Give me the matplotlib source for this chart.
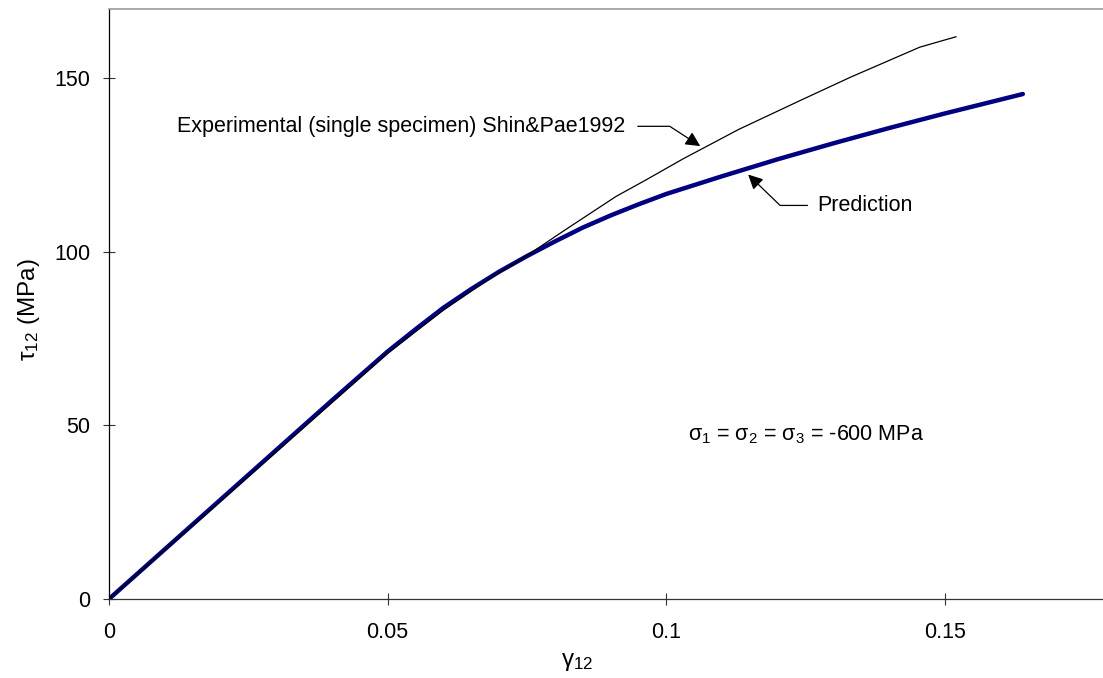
"""
shear stress-strain: prediction vs Shin & Pae 1992 experiment
"""

import matplotlib
matplotlib.use('Agg')
import matplotlib.pyplot as plt

# prediction curve (thick navy)
pred_gamma = [0, 0.01, 0.02, 0.03, 0.04, 0.05, 0.055, 0.06, 0.065, 0.07,
              0.075, 0.08, 0.085, 0.09, 0.095, 0.1, 0.11, 0.12, 0.13, 0.14,
              0.15, 0.16, 0.164]
pred_tau = [0, 14.3, 28.6, 42.9, 57.2, 71.3, 77.7, 83.9, 89.3, 94.3,
            98.8, 103.0, 107.0, 110.5, 113.7, 116.7, 121.8, 126.7, 131.3,
            135.7, 139.9, 143.9, 145.5]

# experimental curve (thin black)
exp_gamma = [0, 0.01, 0.02, 0.03, 0.04, 0.05, 0.06, 0.068, 0.0743, 0.082,
             0.091, 0.0962, 0.103, 0.113, 0.124, 0.133, 0.1455, 0.152]
exp_tau = [0, 14.1, 28.2, 42.4, 56.6, 70.8, 83.2, 92.0, 98.2, 106.5,
           116.0, 120.6, 126.8, 135.3, 143.6, 150.3, 159.0, 162.0]

xticks = [0, 0.05, 0.1, 0.15]
xticklabels = ['0', '0.05', '0.1', '0.15']
yticks = [0, 50, 100, 150]


def main():
    plt.rcParams['font.family'] = ['Liberation Sans', 'DejaVu Sans']
    plt.rcParams['mathtext.fontset'] = 'custom'
    plt.rcParams['mathtext.rm'] = 'Liberation Sans'
    plt.rcParams['font.size'] = 15.5

    fig = plt.figure(figsize=(11.03, 6.78), dpi=100)
    ax = fig.add_axes([109 / 1103, 79 / 678, 1003 / 1103, 590 / 678])

    ax.plot(exp_gamma, exp_tau, color='black', linewidth=0.9, zorder=3)
    ax.plot(pred_gamma, pred_tau, color='#000080', linewidth=3.2,
            solid_capstyle='round', solid_joinstyle='round', zorder=2)

    ax.set_xlim(0, 0.18)
    ax.set_ylim(0, 170)
    ax.set_xticks(xticks)
    ax.set_xticklabels(xticklabels)
    ax.set_yticks(yticks)
    ax.tick_params(axis='both', direction='inout', length=9, width=0.8,
                   color='#333333', labelsize=15.5)
    ax.tick_params(axis='x', pad=12)
    ax.tick_params(axis='y', pad=9)

    ax.spines['right'].set_visible(False)
    ax.spines['top'].set_color('#999999')
    ax.spines['top'].set_linewidth(1.2)
    ax.spines['left'].set_color('black')
    ax.spines['bottom'].set_color('#333333')
    ax.spines['left'].set_linewidth(0.9)
    ax.spines['bottom'].set_linewidth(0.9)

    ax.set_xlabel(r'$\mathregular{γ_{12}}$', fontsize=17.5, va='center')
    ax.set_ylabel(r'$\mathregular{τ_{12}}$ (MPa)', fontsize=17.5,
                  va='center')
    ax.xaxis.set_label_coords(0.467, -0.107)
    ax.yaxis.set_label_coords(-0.080, 0.49)

    ax.annotate('Experimental (single specimen) Shin&Pae1992',
                xy=(0.1061, 130.5), xytext=(0.0122, 136.2),
                ha='left', va='center', fontsize=15.5,
                arrowprops=dict(arrowstyle='-|>', color='black', lw=0.9,
                                mutation_scale=22,
                                connectionstyle='angle,angleA=0,angleB=-33,rad=0',
                                shrinkA=7, shrinkB=0))
    ax.annotate('Prediction',
                xy=(0.1147, 122.3), xytext=(0.1271, 113.4),
                ha='left', va='center', fontsize=15.5,
                arrowprops=dict(arrowstyle='-|>', color='black', lw=0.9,
                                mutation_scale=22,
                                connectionstyle='angle,angleA=180,angleB=136,rad=0',
                                shrinkA=5, shrinkB=0))

    ax.text(0.1039, 47.2,
            r'$\mathregular{σ_1}$ = $\mathregular{σ_2}$ = '
            r'$\mathregular{σ_3}$ = -600 MPa',
            ha='left', va='center', fontsize=15.5)

    fig.savefig('out.png', dpi=100)


if __name__ == '__main__':
    main()
